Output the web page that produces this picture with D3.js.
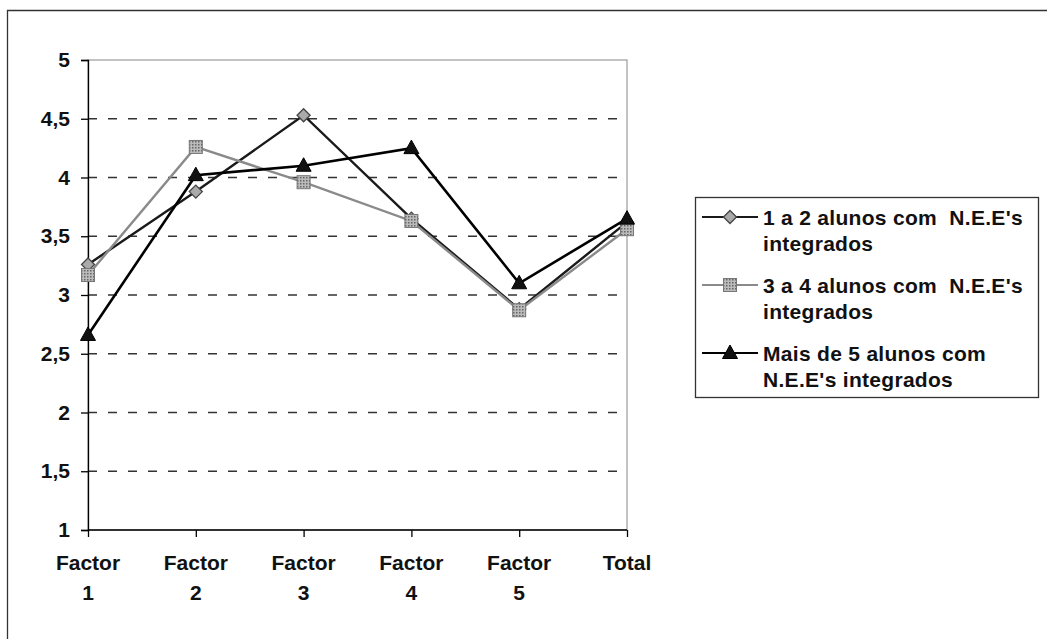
<!DOCTYPE html>
<html><head><meta charset="utf-8">
<script src="https://cdn.jsdelivr.net/npm/d3@7"></script>
<style>body{margin:0;background:#fff}svg{display:block}text{font-family:"Liberation Sans",Arial,sans-serif;font-weight:bold;fill:#111}</style>
</head><body><svg id="c" width="1047" height="639"></svg>
<script>
const categories = [["Factor","1"],["Factor","2"],["Factor","3"],["Factor","4"],["Factor","5"],["Total"]];
const yTicks = [1,1.5,2,2.5,3,3.5,4,4.5,5];
const yTickLabels = ["1","1,5","2","2,5","3","3,5","4","4,5","5"];
const series1 = [3.26, 3.88, 4.53, 3.65, 2.88, 3.62];
const series2 = [3.17, 4.26, 3.96, 3.63, 2.87, 3.56];
const series3 = [2.66, 4.02, 4.10, 4.25, 3.10, 3.65];
const seriesNames = [["1 a 2 alunos com  N.E.E's","integrados"],["3 a 4 alunos com  N.E.E's","integrados"],["Mais de 5 alunos com","N.E.E's integrados"]];

const svg = d3.select("#c");
const L=88,R=627,T=60,B=530;
const FS="21px";
svg.append("path").attr("d","M7.5,639 L7.5,10.5 L1047,10.5").attr("fill","none").attr("stroke","#333").attr("stroke-width",1.3);
svg.append("rect").attr("x",L).attr("y",T).attr("width",R-L).attr("height",B-T).attr("fill","none").attr("stroke","#888").attr("stroke-width",1);

const x = d3.scalePoint().domain(d3.range(categories.length)).range([L,R]);
const y = d3.scaleLinear().domain([1,5]).range([B,T]);

svg.append("g").selectAll("line").data(yTicks.filter(v=>v>1&&v<5)).join("line")
  .attr("x1",L).attr("x2",R).attr("y1",d=>y(d)).attr("y2",d=>y(d))
  .attr("stroke","#333").attr("stroke-width",1.3).attr("stroke-dasharray","9,11");

const yAxis = d3.axisLeft(y).tickValues(yTicks).tickFormat((d,i)=>yTickLabels[i]).tickSize(7).tickPadding(11);
const gy = svg.append("g").attr("transform",`translate(${L},0)`).call(yAxis);
gy.select(".domain").attr("stroke","#000").attr("stroke-width",1.3);
gy.selectAll(".tick line").attr("stroke","#000").attr("stroke-width",1.3);
gy.selectAll("text").style("font-size",FS).style("font-family","'Liberation Sans',Arial,sans-serif").style("font-weight","bold").attr("fill","#111");

const xAxis = d3.axisBottom(x).tickSize(7).tickFormat("");
const gx = svg.append("g").attr("transform",`translate(0,${B})`).call(xAxis);
gx.select(".domain").attr("stroke","#000").attr("stroke-width",1.3).attr("d",`M${L},0H${R}`);
gx.selectAll(".tick line").attr("stroke","#000").attr("stroke-width",1.3);
categories.forEach((c,i)=>{
  c.forEach((t,j)=>{
    svg.append("text").attr("x",x(i)).attr("y",570+j*30).attr("text-anchor","middle").style("font-size",FS).text(t);
  });
});

const line = d3.line().x((d,i)=>x(i)).y(d=>y(d));
const defs = svg.append("defs");
const pat = defs.append("pattern").attr("id","hatch").attr("width",3).attr("height",3).attr("patternUnits","userSpaceOnUse");
pat.append("rect").attr("width",3).attr("height",3).attr("fill","#bbb");
pat.append("rect").attr("width",1.5).attr("height",1.5).attr("fill","#666");

function diamond(g,cx,cy){g.append("path").attr("d",`M${cx},${cy-6.5}L${cx+6.5},${cy}L${cx},${cy+6.5}L${cx-6.5},${cy}Z`).attr("fill","#aaa").attr("stroke","#444").attr("stroke-width",1.3);}
function square(g,cx,cy){g.append("rect").attr("x",cx-6.5).attr("y",cy-6.5).attr("width",13).attr("height",13).attr("fill","url(#hatch)").attr("stroke","#777").attr("stroke-width",1);}
function tri(g,cx,cy){g.append("path").attr("d",`M${cx},${cy-8}L${cx+7.5},${cy+5.5}L${cx-7.5},${cy+5.5}Z`).attr("fill","#111").attr("stroke","#000").attr("stroke-width",1);}

const defsS = [
  {data:series1,color:"#1a1a1a",w:2.4,mark:diamond},
  {data:series2,color:"#8a8a8a",w:2.4,mark:square},
  {data:series3,color:"#000",w:2.6,mark:tri}
];
defsS.forEach(s=>{
  svg.append("path").datum(s.data).attr("d",line).attr("fill","none").attr("stroke",s.color).attr("stroke-width",s.w);
});
defsS.forEach(s=>{
  const g=svg.append("g");
  s.data.forEach((v,i)=>s.mark(g,x(i),y(v)));
});

svg.append("rect").attr("x",695.5).attr("y",197.5).attr("width",343).attr("height",200).attr("fill","#fff").attr("stroke","#333").attr("stroke-width",1.3);
const legY=[217,285,353];
defsS.forEach((s,i)=>{
  const g=svg.append("g");
  g.append("line").attr("x1",702).attr("x2",758).attr("y1",legY[i]).attr("y2",legY[i]).attr("stroke",s.color).attr("stroke-width",2.2);
  s.mark(g,730,legY[i]);
  seriesNames[i].forEach((t,j)=>{
    g.append("text").attr("x",763).attr("y",legY[i]+7.5+j*26).style("font-size",FS).style("letter-spacing","0.3px").attr("xml:space","preserve").style("white-space","pre").text(t);
  });
});
</script></body></html>
